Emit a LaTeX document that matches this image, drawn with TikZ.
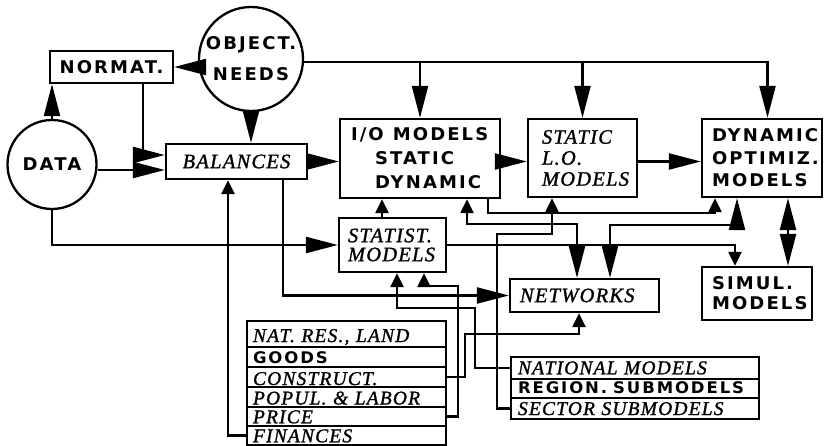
\documentclass[tikz,border=0pt]{standalone}
\usepackage{fontspec}
\usetikzlibrary{arrows.meta}
\newfontfamily\capsfont{DejaVu Sans}[FakeStretch=1.03,LetterSpace=12]
\newfontfamily\itfont{Liberation Serif}[LetterSpace=6,FakeBold=1.2]
\hyphenpenalty=10000

\begin{document}
\begin{tikzpicture}[x=1pt, y=-1pt, line width=2.3pt,
    bigtip/.tip={Triangle[length=32pt,width=16pt]},
    smalltip/.tip={Triangle[length=14pt,width=13pt]},
    caps/.style={font=\capsfont\bfseries\fontsize{17.5}{#1}\selectfont}, caps/.default=18,
    rowcaps/.style={font=\capsfont\bfseries\fontsize{16}{18}\selectfont},
    ital/.style={font=\itfont\itshape\fontsize{20.5}{#1}\selectfont}, ital/.default=21,
    rowital/.style={font=\itfont\itshape\fontsize{19.5}{21}\selectfont},
    box/.style={draw, rectangle, inner sep=0pt, align=left}]
    \useasboundingbox (0,0) rectangle (824,446);

    \node[circle, draw, minimum size=104pt, inner sep=0pt, caps, align=center] (OBJ) at (251,59) {OBJECT.\\[13pt]NEEDS};
    \node[box, caps, minimum width=123pt, minimum height=32pt, align=center] (NORM) at (111.5,67) {NORMAT.};
    \node[circle, draw, minimum size=89pt, inner sep=0pt, caps] (DATA) at (52,164.5) {DATA};
    \node[box, ital, minimum width=141pt, minimum height=35pt, align=center] (BAL) at (236.5,161.5) {BALANCES};
    \node[box, caps=24, minimum width=160pt, minimum height=79pt, inner xsep=11pt, text width=138pt] (IO) at (420,158.5)
        {\mbox{I/O\hspace{9pt}MODELS}\\\hspace*{24pt}STATIC\\\hspace*{24pt}DYNAMIC};
    \node[box, ital, minimum width=109pt, minimum height=78pt, inner xsep=14pt, text width=81pt] (LO) at (582.5,158) {STATIC\\L.O.\\MODELS};
    \node[box, caps=22.5, minimum width=120pt, minimum height=78pt, inner xsep=10pt, text width=100pt] (DYN) at (762,158) {DYNAMIC\\OPTIMIZ.\\MODELS};
    \node[box, ital=19, minimum width=107pt, minimum height=54pt, inner xsep=9pt, text width=89pt] (STAT) at (392.5,245) {STATIST.\\MODELS};
    \node[box, ital, minimum width=149pt, minimum height=33pt, inner xsep=10pt, text width=129pt] (NET) at (584.5,295.5) {NETWORKS};
    \node[box, caps=20, minimum width=110pt, minimum height=53pt, inner xsep=10pt, text width=90pt] (SIM) at (757,293.5) {SIMUL.\\MODELS};

    \node[box, rowital, minimum width=199pt, minimum height=26pt, inner xsep=6pt, text width=187pt, text height=16pt, text depth=0pt] (NR) at (346.5,334) {\mbox{NAT. RES., LAND}};
    \node[box, rowcaps, minimum width=199pt, minimum height=20pt, inner xsep=6pt, text width=187pt, text height=12.5pt, text depth=0pt] (GD) at (346.5,357) {GOODS};
    \node[box, rowital, minimum width=199pt, minimum height=20pt, inner xsep=6pt, text width=187pt, text height=16pt, text depth=0pt] (CON) at (346.5,377) {CONSTRUCT.};
    \node[box, rowital, minimum width=199pt, minimum height=20pt, inner xsep=6pt, text width=187pt, text height=15pt, text depth=0pt] (POP) at (346.5,397) {\mbox{POPUL. \& LABOR}};
    \node[box, rowital, minimum width=199pt, minimum height=19pt, inner xsep=6pt, text width=187pt, text height=13.5pt, text depth=0pt] (PR) at (346.5,416.5) {PRICE};
    \node[box, rowital, minimum width=199pt, minimum height=19pt, inner xsep=6pt, text width=187pt, text height=13.5pt, text depth=0pt] (FIN) at (346.5,435.5) {FINANCES};

    \node[box, rowital, minimum width=248pt, minimum height=22pt, inner xsep=7pt, text width=234pt, text height=12.5pt, text depth=0pt] (NAT) at (635,368) {\mbox{NATIONAL MODELS}};
    \node[box, rowcaps, minimum width=248pt, minimum height=19pt, inner xsep=7pt, text width=234pt, text height=9.5pt, text depth=0pt] (REG) at (635,388.5) {\mbox{REGION.\hspace{6pt}SUBMODELS}};
    \node[box, rowital, minimum width=248pt, minimum height=21pt, inner xsep=7pt, text width=234pt, text height=13pt, text depth=0pt] (SEC) at (635,408.5) {\mbox{SECTOR SUBMODELS}};

    % 矢印を引く
    \coordinate (OBJL) at ([yshift=-3pt]OBJ.east);
    \coordinate (DB) at ([yshift=-8.5pt]BAL.west);
    \draw[-bigtip] (OBJ.west |- NORM.east) -- (NORM.east);
    \draw[-bigtip] (DATA.north) -- (DATA.north |- NORM.south);
    \draw[-bigtip] ([xshift=31.5pt]NORM.south) |- ([yshift=6.5pt]BAL.west);
    \draw[-bigtip] (DATA.east |- DB) -- (DB);
    \draw[-bigtip] (OBJ.south) -- (OBJ.south |- BAL.north);
    \draw[-bigtip] (OBJL) -| ([xshift=5.5pt]DYN.north);
    \draw[-bigtip] (IO.north |- OBJL) -- (IO.north);
    \draw[-bigtip] (LO.north |- OBJL) -- (LO.north);
    \draw[-bigtip] (BAL.east) -- (BAL.east -| IO.west);
    \draw[-bigtip] (IO.east |- BAL.east) -- (LO.west |- BAL.east);
    \draw[-bigtip] (LO.east |- BAL.east) -- (DYN.west |- BAL.east);
    \draw[-bigtip] (DATA.south) |- (STAT.west);
    \draw[-smalltip] ([xshift=-10.5pt]STAT.north) -- ([xshift=-10.5pt]STAT.north |- IO.south);
    \draw[-bigtip] ([xshift=46.5pt]BAL.south) |- (NET.west);
    \draw[-smalltip] (FIN.west) -| ([xshift=-8.5pt]BAL.south);
    \draw[-smalltip] (SEC.west) -| (497,234) -| ([xshift=-30.5pt]LO.south);
    \draw[-smalltip] (NAT.west) -| (475,308) -| ([xshift=4.5pt]STAT.south);
    \draw[-smalltip] (PR.east) -| (458,286) -| ([xshift=31.5pt]STAT.south);
    \draw[-smalltip] (CON.east) -| (465,334) -| ([xshift=-5.5pt]NET.south);
    \draw[smalltip-bigtip] ([xshift=47pt]IO.south) -- ++(0,25) -| ([xshift=-7.5pt]NET.north);
    \draw[-smalltip] ([xshift=68pt]IO.south) -- ++(0,14) -| ([xshift=-47pt]DYN.south);
    \draw[bigtip-bigtip] ([xshift=-25pt]DYN.south) -- ++(0,27) -| ([xshift=25.5pt]NET.north);
    \draw[-smalltip] (STAT.east) -| ([xshift=-22pt]SIM.north);
    \draw[bigtip-bigtip] ([xshift=26pt]DYN.south) -- ([xshift=26pt]DYN.south |- SIM.north);
\end{tikzpicture}
\end{document}
